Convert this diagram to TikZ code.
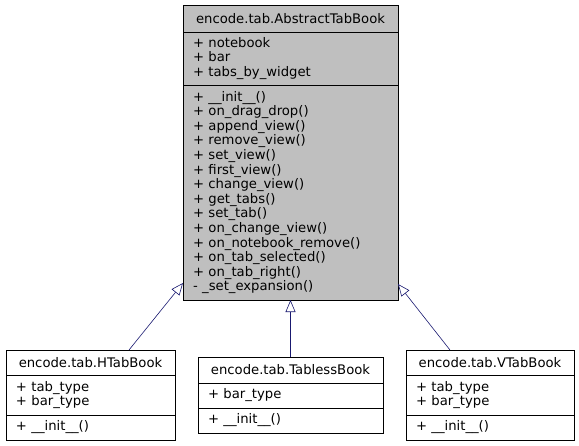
\documentclass[tikz,border=0pt]{standalone}
\usepackage{fontspec}
\setmainfont{DejaVu Sans}
\usetikzlibrary{arrows.meta,positioning}
\definecolor{Navy}{HTML}{191970}
\definecolor{ClassGray}{HTML}{BFBFBF}

\begin{document}
\begin{tikzpicture}[x=1pt,y=-1pt,
          every node/.style={font=\fontsize{13.2}{14.6}\selectfont},
          ctitle/.style={draw=black,line width=0.8pt,outer sep=0pt,inner sep=0pt,align=center},
          cpart/.style={draw=black,line width=0.8pt,outer sep=0pt,inner xsep=10pt,inner ysep=0pt,align=left},
          inherit/.style={draw=Navy,line width=0.6pt,-{Triangle[open,length=12pt,width=10pt,fill=white]}}]
        \useasboundingbox (0,0) rectangle (579,445);
        % base class
        \node[ctitle,fill=ClassGray,minimum width=215pt,minimum height=27pt] (abs) at (290.5,18.5)
          {encode.tab.AbstractTabBook};
        \node[cpart,fill=ClassGray,text width=195pt,minimum height=53pt,below=0pt of abs] (absattr)
          {+ notebook\\+ bar\\+ tabs\_by\_widget};
        \node[cpart,fill=ClassGray,text width=195pt,minimum height=215pt,below=0pt of absattr] (absops)
          {+ \_\_init\_\_()\\+ on\_drag\_drop()\\+ append\_view()\\+ remove\_view()\\+ set\_view()\\
           + first\_view()\\+ change\_view()\\+ get\_tabs()\\+ set\_tab()\\+ on\_change\_view()\\
           + on\_notebook\_remove()\\+ on\_tab\_selected()\\+ on\_tab\_right()\\- \_set\_expansion()};
        % derived classes
        \node[ctitle,minimum width=169pt,minimum height=25pt] (htab) at (90.5,362.5)
          {encode.tab.HTabBook};
        \node[cpart,text width=149pt,minimum height=40pt,below=0pt of htab] (htabattr)
          {+ tab\_type\\+ bar\_type};
        \node[cpart,text width=149pt,minimum height=25pt,below=0pt of htabattr] (htabops)
          {+ \_\_init\_\_()};
        \node[ctitle,minimum width=185pt,minimum height=26pt] (tless) at (290.5,370)
          {encode.tab.TablessBook};
        \node[cpart,text width=165pt,minimum height=25pt,below=0pt of tless] (tlessattr)
          {+ bar\_type};
        \node[cpart,text width=165pt,minimum height=25pt,below=0pt of tlessattr] (tlessops)
          {+ \_\_init\_\_()};
        \node[ctitle,minimum width=168pt,minimum height=25pt] (vtab) at (490,362.5)
          {encode.tab.VTabBook};
        \node[cpart,text width=148pt,minimum height=40pt,below=0pt of vtab] (vtabattr)
          {+ tab\_type\\+ bar\_type};
        \node[cpart,text width=148pt,minimum height=25pt,below=0pt of vtabattr] (vtabops)
          {+ \_\_init\_\_()};
        % generalisation arrows
        \draw[inherit] ([xshift=38.5pt]htab.north) -- ([yshift=17pt]absops.south west);
        \draw[inherit] (tless.north) -- (absops.south);
        \draw[inherit] ([xshift=-40pt]vtab.north) -- ([yshift=16pt]absops.south east);
      \end{tikzpicture}
\end{document}
